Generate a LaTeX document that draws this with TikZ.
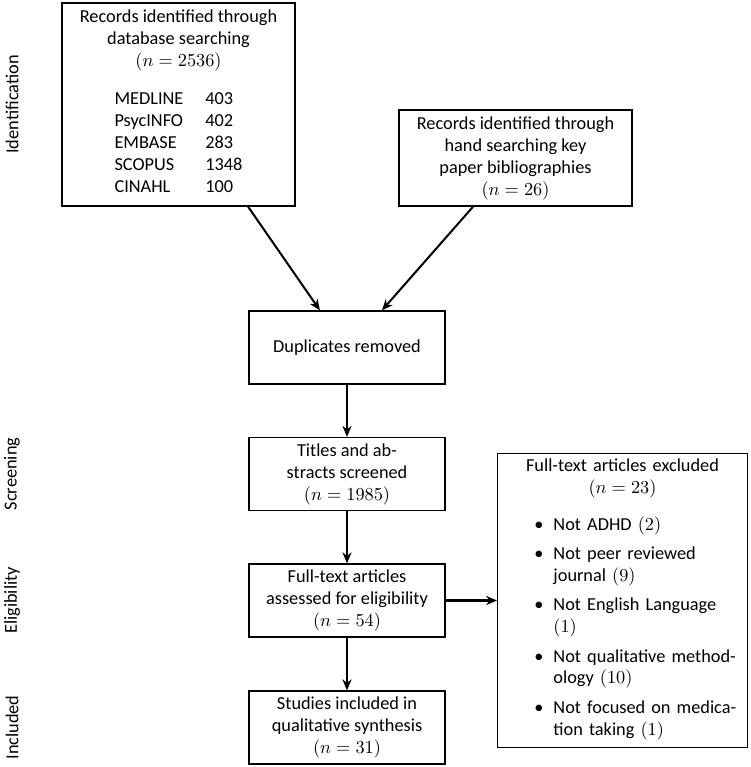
\documentclass[tikz,border=0pt]{standalone}
\usepackage{fontspec}
\setmainfont{Carlito}
\usetikzlibrary{arrows.meta}
\tikzset{
  box/.style={draw, line width=0.7pt, align=center, inner sep=3pt},
  flow/.style={line width=1.1pt, -{Stealth[length=6pt,width=5pt]}},
}
\begin{document}
\begin{tikzpicture}[x=0.5464pt,y=-0.5464pt]
      \useasboundingbox (0,0) rectangle (751,767);
      \draw
        (12,104.5) node[rotate=90] (ident){Identification}
        (12,474) node[rotate=90] (screen){Screening}
        (12,600.5) node[rotate=90] (elig){Eligibility}
        (12,727.5) node[rotate=90] (incl){Included};
      \draw
        (178.5,104.5) node[box, minimum width=127.3pt, minimum height=110.9pt] (db){Records identified through\\
          database searching\\ $(n=2536)$\\[9pt]
          \begin{tabular}{@{}ll@{}}
            MEDLINE & 403\\
            PsycINFO & 402\\
            EMBASE & 283\\
            SCOPUS & 1348\\
            CINAHL & 100
          \end{tabular}}
        (515.5,158) node[box, minimum width=127.3pt, minimum height=52.5pt] (hand){Records identified through\\
          hand searching key\\ paper bibliographies\\ $(n=26)$}
        (347,347.5) node[box, minimum width=107.1pt, minimum height=39.9pt] (dup){Duplicates removed}
        (347,474) node[box, minimum width=107.1pt, minimum height=39.9pt] (titles){Titles and ab-\\
          stracts screened\\ $(n=1985)$}
        (347,600.5) node[box, minimum width=107.1pt, minimum height=39.9pt] (full){Full-text articles\\
          assessed for eligibility\\ $(n=54)$}
        (347,727.5) node[box, minimum width=107.1pt, minimum height=39.9pt] (studies){Studies included in\\
          qualitative synthesis\\ $(n=31)$}
        (622.5,600.5) node[box, text width=130.4pt, minimum height=160.1pt] (excl){Full-text articles excluded\\
          \mbox{$(n=23)$}\\[8pt]
          \makebox[\linewidth][l]{\begin{tabular}{@{\hspace{17pt}}l@{\hspace{5.5pt}}l@{}}
            \textbullet & Not ADHD $(2)$\\[4pt]
            \textbullet & Not peer reviewed\\
                        & journal $(9)$\\[4pt]
            \textbullet & Not English Language\\
                        & $(1)$\\[4pt]
            \textbullet & Not qualitative method-\\
                        & ology $(10)$\\[4pt]
            \textbullet & Not focused on medica-\\
                        & tion taking $(1)$
          \end{tabular}}};
      \begin{scope}[flow]
        \draw ([xshift=38pt]db.south) to ([xshift=-14.8pt]dup.north);
        \draw ([xshift=-23.2pt]hand.south) to ([xshift=19.1pt]dup.north);
        \draw (dup) to (titles);
        \draw (titles) to (full);
        \draw (full) to (studies);
        \draw (full) to (excl);
      \end{scope}
    \end{tikzpicture}
\end{document}
